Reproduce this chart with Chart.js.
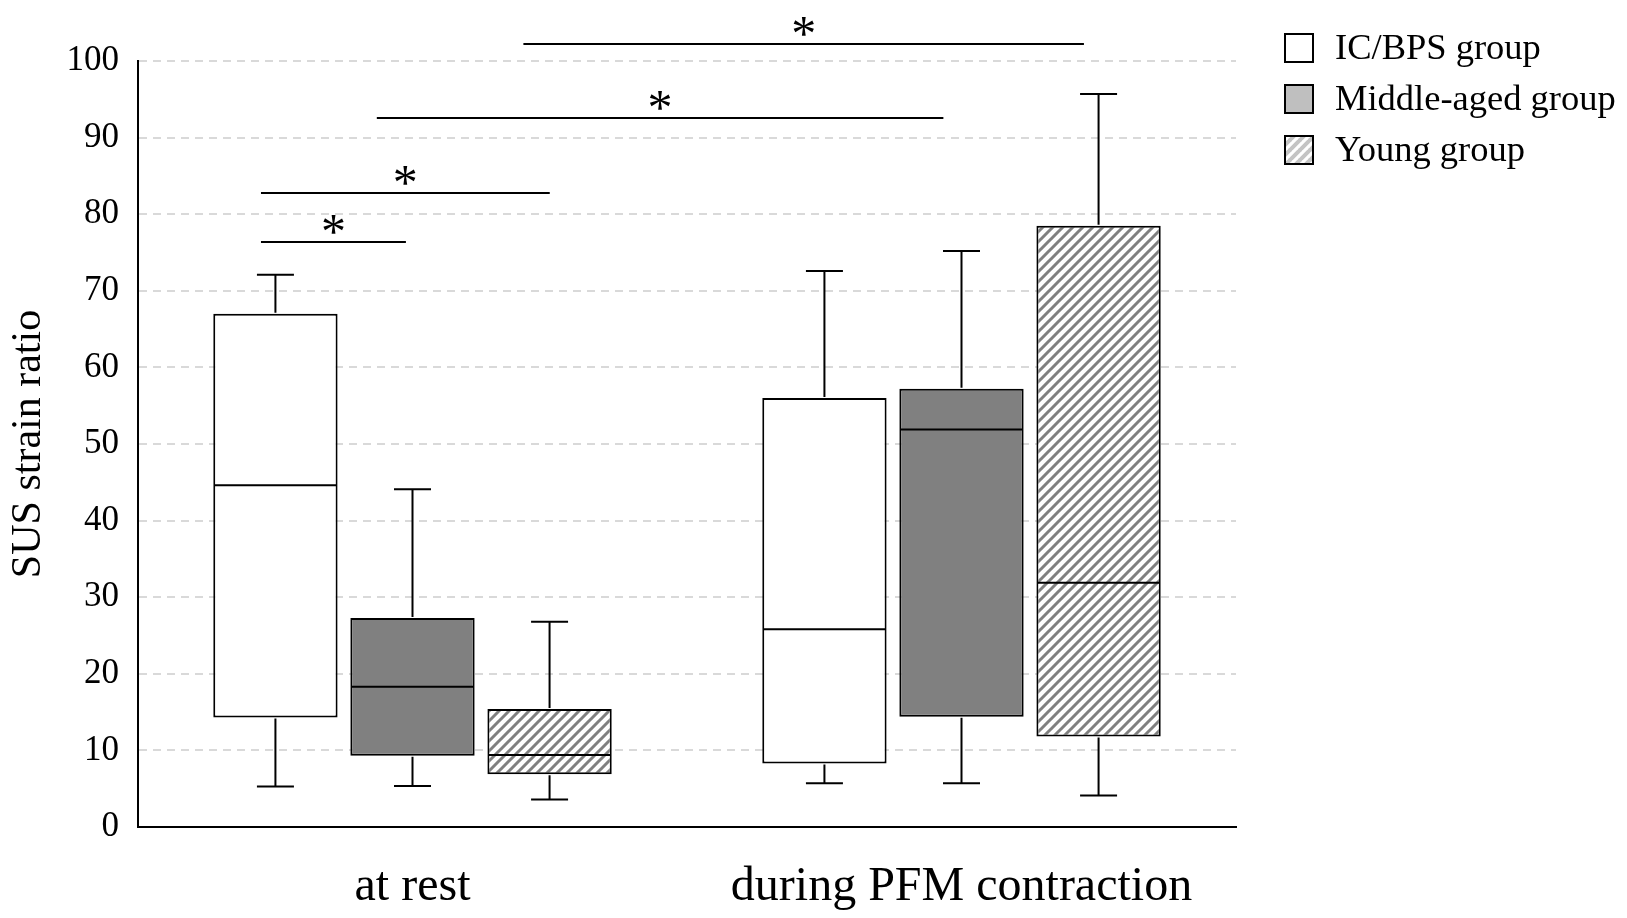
<!DOCTYPE html>
<html>
<head>
<meta charset="utf-8">
<script src="https://cdn.jsdelivr.net/npm/chart.js@4.4.0/dist/chart.umd.min.js"></script>
<style>
  html, body { margin: 0; padding: 0; background: #fff; }
</style>
</head>
<body>
<canvas id="myChart" width="1627" height="918"></canvas>
<script>
const categories = ['at rest', 'during PFM contraction'];
const groupNames = ['IC/BPS group', 'Middle-aged group', 'Young group'];

// box plot values, one entry per category
const icMin = [5.3, 5.7];
const icQ1 = [14.3, 8.3];
const icMed = [44.6, 25.8];
const icQ3 = [67.0, 56.0];
const icMax = [72.1, 72.6];

const midMin = [5.35, 5.7];
const midQ1 = [9.3, 14.4];
const midMed = [18.3, 51.9];
const midQ3 = [27.3, 57.2];
const midMax = [44.1, 75.2];

const youngMin = [3.6, 4.1];
const youngQ1 = [6.9, 11.8];
const youngMed = [9.4, 31.9];
const youngQ3 = [15.4, 78.5];
const youngMax = [26.8, 95.7];

// significance brackets: start / end on the category axis, height on the y axis
const sigStart = [-0.276, -0.276, -0.065, 0.202];
const sigEnd = [-0.012, 0.25, 0.967, 1.223];
const sigHeight = [76.4, 82.8, 92.6, 102.2];
const sigLabel = ['*', '*', '*', '*'];

const yTicks = [0, 10, 20, 30, 40, 50, 60, 70, 80, 90, 100];

const serif = "'Liberation Serif', 'Times New Roman', serif";

function makeHatch(stripe, width, size) {
    const c = document.createElement('canvas');
    c.width = size;
    c.height = size;
    const g = c.getContext('2d');
    g.fillStyle = '#fff';
    g.fillRect(0, 0, size, size);
    g.strokeStyle = stripe;
    g.lineWidth = width;
    g.beginPath();
    g.moveTo(-1, 1); g.lineTo(1, -1);
    g.moveTo(0, size); g.lineTo(size, 0);
    g.moveTo(size - 1, size + 1); g.lineTo(size + 1, size - 1);
    g.stroke();
    return g.createPattern(c, 'repeat');
}

const hatch = makeHatch('#808080', 3, 10);
const legendHatch = makeHatch('#c4c4c4', 4, 10);

const stats = [
    { min: icMin, q1: icQ1, med: icMed, q3: icQ3, max: icMax },
    { min: midMin, q1: midQ1, med: midMed, q3: midQ3, max: midMax },
    { min: youngMin, q1: youngQ1, med: youngMed, q3: youngQ3, max: youngMax }
];
const fills = ['#ffffff', '#808080', hatch];
const legendFills = ['#ffffff', '#bfbfbf', legendHatch];

const datasets = stats.map((s, d) => ({
    label: groupNames[d],
    data: s.q1.map((q, i) => [q, s.q3[i]]),
    backgroundColor: fills[d],
    borderColor: '#000',
    borderWidth: 2,
    borderSkipped: false,
    barPercentage: 0.907,
    categoryPercentage: 0.749
}));

// whiskers and medians on top of the floating bars
const boxExtras = {
    id: 'boxExtras',
    afterDatasetsDraw(chart) {
        const ctx = chart.ctx;
        const y = chart.scales.y;
        stats.forEach((s, d) => {
            chart.getDatasetMeta(d).data.forEach((bar, i) => {
                const half = bar.width / 2;
                const cap = 18.5;
                const ym = y.getPixelForValue(s.med[i]);
                const y1 = y.getPixelForValue(s.q1[i]);
                const y3 = y.getPixelForValue(s.q3[i]);
                const yl = y.getPixelForValue(s.min[i]);
                const yh = y.getPixelForValue(s.max[i]);
                ctx.save();
                ctx.strokeStyle = '#000';
                ctx.lineWidth = 2;
                ctx.beginPath();
                ctx.moveTo(bar.x - half + 1, ym); ctx.lineTo(bar.x + half - 1, ym);
                ctx.moveTo(bar.x, y3 - 1); ctx.lineTo(bar.x, yh);
                ctx.moveTo(bar.x - cap, yh); ctx.lineTo(bar.x + cap, yh);
                ctx.moveTo(bar.x, y1 + 1); ctx.lineTo(bar.x, yl);
                ctx.moveTo(bar.x - cap, yl); ctx.lineTo(bar.x + cap, yl);
                ctx.stroke();
                ctx.restore();
            });
        });
    }
};

// significance brackets with asterisks
const sigBars = {
    id: 'sigBars',
    afterDraw(chart) {
        const ctx = chart.ctx;
        const x = chart.scales.x;
        const y = chart.scales.y;
        ctx.save();
        ctx.strokeStyle = '#000';
        ctx.lineWidth = 2;
        ctx.fillStyle = '#000';
        ctx.font = '50px ' + serif;
        ctx.textAlign = 'center';
        ctx.textBaseline = 'alphabetic';
        sigHeight.forEach((h, k) => {
            const xa = x.getPixelForValue(sigStart[k]);
            const xb = x.getPixelForValue(sigEnd[k]);
            const py = Math.round(y.getPixelForValue(h));
            ctx.beginPath();
            ctx.moveTo(xa, py); ctx.lineTo(xb, py);
            ctx.stroke();
            ctx.fillText(sigLabel[k], (xa + xb) / 2, py + 6);
        });
        ctx.restore();
    }
};

// legend drawn to the right of the plot
const sideLegend = {
    id: 'sideLegend',
    afterDraw(chart) {
        const ctx = chart.ctx;
        const left = chart.chartArea.right + 48;
        ctx.save();
        ctx.font = '36.5px ' + serif;
        ctx.textBaseline = 'middle';
        ctx.textAlign = 'left';
        groupNames.forEach((name, k) => {
            const cy = 48 + k * 51;
            ctx.fillStyle = legendFills[k];
            ctx.fillRect(left, cy - 15, 30, 30);
            ctx.strokeStyle = '#000';
            ctx.lineWidth = 2;
            ctx.strokeRect(left + 1, cy - 14, 28, 28);
            ctx.fillStyle = '#000';
            ctx.fillText(name, left + 51, cy + 1);
        });
        ctx.restore();
    }
};

const ctx = document.getElementById('myChart').getContext('2d');
const chart = new Chart(ctx, {
    type: 'bar',
    data: {
        labels: categories,
        datasets: datasets
    },
    options: {
        responsive: false,
        animation: false,
        layout: {
            padding: { left: 0, right: 391, top: 61, bottom: 0 }
        },
        scales: {
            x: {
                afterFit: axis => { axis.height = 91; },
                grid: { display: false, drawTicks: false },
                border: { display: true, color: '#000', width: 2 },
                ticks: {
                    color: '#000',
                    padding: 32,
                    font: { family: serif, size: 48 }
                }
            },
            y: {
                min: 0,
                max: 100,
                afterFit: axis => { axis.width = 138; },
                afterBuildTicks: axis => {
                    axis.ticks = yTicks.map(v => ({ value: v }));
                },
                grid: {
                    drawTicks: false,
                    lineWidth: 2,
                    color: c => (c.tick && c.tick.value === 0 ? 'rgba(0,0,0,0)' : '#d9d9d9')
                },
                border: { display: true, color: '#000', width: 2, dash: [8, 6] },
                ticks: {
                    color: '#000',
                    padding: 19,
                    font: { family: serif, size: 35 }
                },
                title: {
                    display: true,
                    text: 'SUS strain ratio',
                    color: '#000',
                    font: { family: serif, size: 42 },
                    padding: { top: 4, bottom: 0 }
                }
            }
        },
        plugins: {
            legend: { display: false },
            tooltip: { enabled: false }
        }
    },
    plugins: [boxExtras, sigBars, sideLegend]
});
</script>
</body>
</html>
